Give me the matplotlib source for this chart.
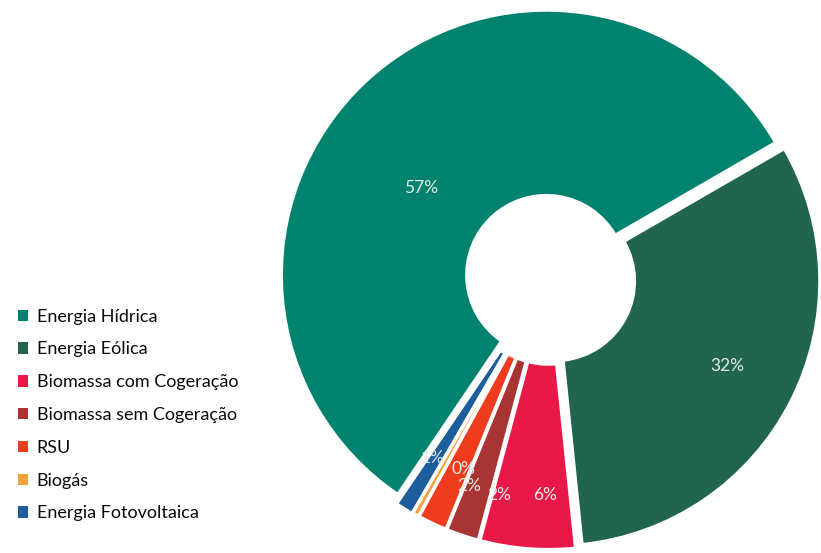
import numpy as np
import matplotlib.pyplot as plt

plt.rcParams['font.family'] = ['Lato', 'DejaVu Sans']

# order as drawn counter-clockwise from the upper right
labels = ['Energia Hídrica', 'Energia Fotovoltaica', 'Biogás', 'RSU',
          'Biomassa sem Cogeração', 'Biomassa com Cogeração', 'Energia Eólica']
values = [57.2, 1.1, 0.4, 1.8, 2.0, 5.8, 31.7]
pct_text = ['57%', '1%', '0%', '2%', '2%', '6%', '32%']
colors = ['#00836e', '#1c5e9c', '#f2a23a', '#ef3c1e', '#a83434', '#e81948', '#22654f']
explode = [0.015, 0.028, 0.025, 0.025, 0.025, 0.025, 0.025]
# where the reference puts each percentage (angle in deg, radius as fraction)
label_ang = [145, 237, 246, 249, 257, 269, 333.6]
label_r = [0.59, 0.81, 0.79, 0.84, 0.84, 0.82, 0.75]
legend_order = ['Energia Hídrica', 'Energia Eólica', 'Biomassa com Cogeração',
                'Biomassa sem Cogeração', 'RSU', 'Biogás', 'Energia Fotovoltaica']

W, H = 821, 553
fig = plt.figure(figsize=(W / 100, H / 100), dpi=100)

R = 265  # outer radius in px
cx, cy = 549, H - 278
half = 1.1 * R
ax = fig.add_axes([(cx - half) / W, (cy - half) / H, 2 * half / W, 2 * half / H])
wedges, _ = ax.pie(values, colors=colors, startangle=30, counterclock=True,
                   explode=explode, radius=1.0,
                   wedgeprops=dict(width=0.70, edgecolor='white', linewidth=2.4))
ax.set_xlim(-1.1, 1.1)
ax.set_ylim(-1.1, 1.1)
ax.axis('off')

for txt, a, r in zip(pct_text, label_ang, label_r):
    ang = np.deg2rad(a)
    ax.text(r * np.cos(ang), r * np.sin(ang), txt, ha='center', va='center',
            color='#e4ebe6', fontsize=12.5)

handles = [wedges[labels.index(n)] for n in legend_order]
leg = fig.legend(handles, legend_order, loc='upper left',
                 bbox_to_anchor=(0.006, 1 - 296 / H), frameon=False,
                 fontsize=13, handlelength=0.6, handleheight=0.6,
                 handletextpad=0.45, labelspacing=0.93, borderpad=0.2)
for t in leg.get_texts():
    t.set_color('#0a0a0a')
for h in leg.legend_handles:
    h.set_edgecolor('none')

fig.savefig('out.png', dpi=100, facecolor='white')
